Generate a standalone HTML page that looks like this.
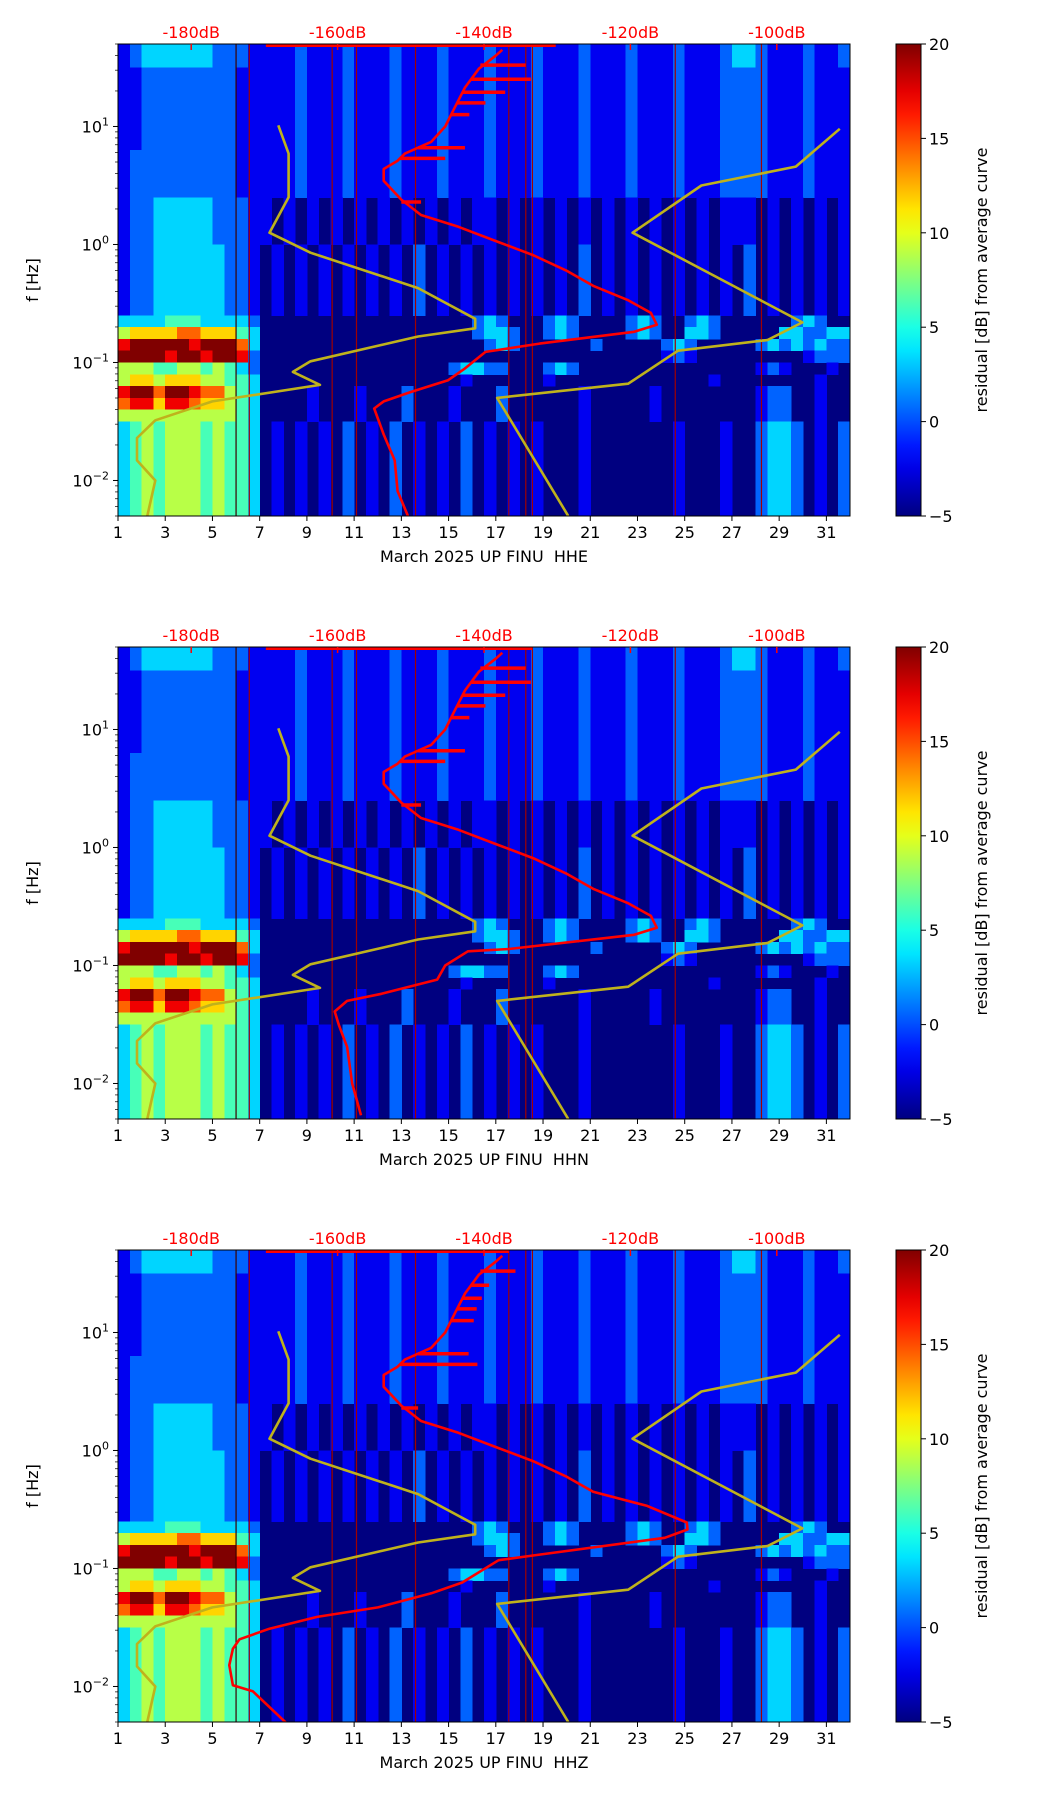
<!DOCTYPE html>
<html><head><meta charset="utf-8">
<style>
html,body{margin:0;padding:0;background:#fff;}
svg text{font-family:"DejaVu Sans","Liberation Sans",sans-serif;}
</style></head>
<body>
<svg id="root" width="1052" height="1806" viewBox="0 0 1052 1806" xmlns="http://www.w3.org/2000/svg"></svg>
<script>
// ---------- data ----------
const panelNames = ["HHE","HHN","HHZ"];
const dayTicks = [1,3,5,7,9,11,13,15,17,19,21,23,25,27,29,31];
const dbTicks = [-180,-160,-140,-120,-100];
const cbTicks = [20,15,10,5,0,-5];
const logTicks = [1,0,-1,-2];
const markerDays = [6.0,6.56,10.07,11.1,13.6,17.55,18.27,18.55,24.6,28.25];

// residual grid: 40 rows (0.1 decade each, from log f 1.7 down), 62 cols (half days), digits 0..9 -> -5..20 dB
const rA="1112111211"+"1211121112"+"1112111211"+"1211121112"+"3321112112";
const rB="1112111211"+"1211121112"+"1112111211"+"1211121112"+"2221112111";
const rC="1010101010"+"1010101011"+"0101010101"+"0101010101"+"1101010101";
const rD="0101010101"+"0102010101"+"0101010201"+"0101010101"+"0201010101";
const rE="0000000000"+"0000000023"+"2000232000"+"0232002320"+"0000023200";
const rF="0000000000"+"0000000023"+"3200232000"+"0232003320"+"0000332233";
const rG="0000000000"+"0000000002"+"3200000020"+"0000232000"+"0023232322";
const rH="0000000000"+"0000000000"+"0000000000"+"0000121000"+"0000001222";
const rI="0000000000"+"0000002332"+"2000232000"+"0000000000"+"0012100010";
const rJ="0000000000"+"0000000100"+"0000100000"+"0000000010"+"0000000100";
const rK="0000100010"+"0020001000"+"2000000100"+"0001000000"+"0012200100";
const rL="0101010201"+"0201010201"+"0101000100"+"0000010001"+"0023320102";
const residualRows = [
"123333332221"+rA,"123333332221"+rA,
"112222222211"+rB,"112222222211"+rB,"112222222211"+rB,"112222222211"+rB,"112222222211"+rB,"112222222211"+rB,"112222222211"+rB,
"122222222211"+rB,"122222222211"+rB,"122222222211"+rB,"122222222211"+rB,
"122333332221"+rC,"122333332221"+rC,"122333332221"+rC,"122333332221"+rC,
"122333333221"+rD,"122333333221"+rD,"122333333221"+rD,"122333333221"+rD,"122333333221"+rD,"122333333221"+rD,
"333344433332"+rE,
"566667766643"+rF,
"899999899973"+rG,
"999989989982"+rH,
"555445545432"+rI,
"566566655443"+rJ,
"899799877543"+rK,
"788688766543"+rK,
"555555555543"+rK,
"345455545443"+rL,"345455545443"+rL,"345455545443"+rL,"345455545443"+rL,
"345455545443"+rL,"345455545443"+rL,"345455545443"+rL,"345455545443"+rL
];

// noise models (dB, log10 f)
const nlnmDb  = [-186.0,-184.9,-187.4,-187.4,-184.9,-177.1,-162.4,-166.1,-163.7,-149.0,-141.2,-141.2,-149.0,-163.7,-169.3,-166.7,-166.7,-168.1];
const nlnmLog = [-2.30,-2.00,-1.83,-1.64,-1.49,-1.33,-1.19,-1.08,-0.99,-0.78,-0.71,-0.63,-0.37,-0.07,0.10,0.40,0.77,1.01];
const nhnmDb  = [-128.5,-138.2,-120.3,-113.5,-101.3,-96.5,-119.7,-110.3,-97.4,-91.4];
const nhnmLog = [-2.30,-1.30,-1.18,-0.90,-0.81,-0.66,0.10,0.50,0.66,0.98];

// average PSD curves
const upperDb  = [-119.5,-116.4,-117.2,-120.4,-125.1,-128.8,-133.3,-138,-143.5,-148.6,-151.3,-153.7,-153.7,-151.8,-150.8,-147.2,-145.3,-144,-142.6,-140.7,-138.4,-137.5];
const upperLog = [-0.74,-0.68,-0.58,-0.47,-0.35,-0.22,-0.09,0.02,0.15,0.25,0.38,0.54,0.64,0.71,0.77,0.87,1.0,1.16,1.33,1.49,1.60,1.65];
const hheLowDb  = [-150.4,-151.8,-152.2,-153.7,-155,-153.7,-150,-144.9,-142.6,-139.8,-132.4];
const hheLowLog = [-2.30,-2.09,-1.83,-1.61,-1.39,-1.33,-1.25,-1.15,-1.05,-0.91,-0.84];
const hhnLowDb  = [-156.8,-158.0,-158.7,-159.8,-160.4,-158.7,-154.0,-146.4,-145.3,-142.2,-136.6];
const hhnLowLog = [-2.27,-2.0,-1.69,-1.51,-1.39,-1.30,-1.24,-1.12,-1.0,-0.88,-0.86];
const hhzLowDb  = [-167.0,-171.6,-174.3,-174.8,-174.3,-173.4,-169.3,-162.8,-154.5,-147.2,-143.0,-138,-133.3,-115.3,-112.2,-112.3,-117.7];
const hhzLowLog = [-2.31,-2.04,-1.99,-1.82,-1.68,-1.60,-1.51,-1.41,-1.33,-1.21,-1.12,-0.93,-0.89,-0.74,-0.67,-0.61,-0.47];
const spikeLog   = [1.52,1.40,1.29,1.20,1.10,0.82,0.73,0.36];
const spikeStart = [-140.5,-141.7,-142.9,-143.7,-144.5,-149,-151.5,-151.3];
const spikeEnd   = [-134.3,-133.6,-137.1,-139.8,-142,-142.6,-145.3,-148.6];
const spikeEndZ  = [-135.7,-139.3,-140.3,-141.0,-141.4,-142.1,-140.9,-149];
const topLineStart = [-169.8,-169.8,-169.8];
const topLineEnd   = [-130.2,-133.4,-136.6];

// ---------- layout ----------
const NS="http://www.w3.org/2000/svg";
const root=document.getElementById('root');
const L=118,R=850,H=472,tops=[44,647,1250];
const CBL=896,CBR=921;
const dayMin=1,dayMax=32,logMin=Math.log10(0.005),logMax=Math.log10(50),dbMin=-190,dbMax=-90;
const xDay=d=>L+(d-dayMin)/(dayMax-dayMin)*(R-L);
const xDb=v=>L+(v-dbMin)/(dbMax-dbMin)*(R-L);
const yLog=(t,l)=>t+(logMax-l)/(logMax-logMin)*H;
function jet(t){t=Math.max(0,Math.min(1,t));
 const r=Math.min(Math.max(Math.min(4*t-1.5,-4*t+4.5),0),1);
 const g=Math.min(Math.max(Math.min(4*t-0.5,-4*t+3.5),0),1);
 const b=Math.min(Math.max(Math.min(4*t+0.5,-4*t+2.5),0),1);
 return `rgb(${Math.round(r*255)},${Math.round(g*255)},${Math.round(b*255)})`;}
function mk(tag,attrs,parent){const e=document.createElementNS(NS,tag);for(const k in attrs)e.setAttribute(k,attrs[k]);(parent||root).appendChild(e);return e;}
function txt(s,attrs,parent){const e=mk('text',attrs,parent);e.textContent=s;return e;}

panelNames.forEach((nm,pi)=>{
 const T=tops[pi];
 const g=mk('g',{});
 
 
 const clipId='clip'+pi;
 const cp=mk('clipPath',{id:clipId},g);mk('rect',{x:L,y:T,width:R-L,height:H},cp);
 const hm=mk('g',{'clip-path':`url(#${clipId})`,'shape-rendering':'crispEdges'},g);
 
 
 mk('rect',{x:L,y:T,width:R-L,height:H,fill:jet(0)},hm);
 residualRows.forEach((row,ri)=>{
  const l0=1.7-0.1*ri,l1=l0-0.1;
  const y0=yLog(T,l0),y1=yLog(T,l1);
  for(let c=0;c<row.length;c++){
   const v=-5+(+row[c])*25/9;
   if(+row[c]===0)continue;
   const d0=1+0.5*c,d1=d0+0.5;
   const r=mk('rect',{x:xDay(d0).toFixed(2),y:y0.toFixed(2),width:(xDay(d1)-xDay(d0)+0.5).toFixed(2),height:(y1-y0+0.5).toFixed(2),fill:jet((v+5)/25)},hm);
   
   
  }
 });
 markerDays.forEach((d,i)=>{
  const ln=mk('line',{x1:xDay(d),x2:xDay(d),y1:T,y2:T+H,stroke:i===0?'#3a0000':'#a00000','stroke-width':1.2},g);
  
  
 });
 const plotG=mk('g',{'clip-path':`url(#${clipId})`},g);
 const poly=(dbA,logA,col,w,nmv)=>{const p=mk('polyline',{points:dbA.map((v,i)=>xDb(v).toFixed(1)+','+yLog(T,logA[i]).toFixed(1)).join(' '),fill:'none',stroke:col,'stroke-width':w,'stroke-linejoin':'round'},plotG);
  
  };
 poly(nlnmDb,nlnmLog,'#bfb21c',2.6,'nlnm-curve');
 poly(nhnmDb,nhnmLog,'#bfb21c',2.6,'nhnm-curve');
 const lowDb=[hheLowDb,hhnLowDb,hhzLowDb][pi],lowLog=[hheLowLog,hhnLowLog,hhzLowLog][pi];
 const fromIdx=pi===2?4:0;
 poly(lowDb.concat(upperDb.slice(fromIdx)),lowLog.concat(upperLog.slice(fromIdx)),'#ff0000',2.6,'average-psd-curve');
 const ends=pi===2?spikeEndZ:spikeEnd;
 spikeLog.forEach((l,i)=>{
  const s=mk('line',{x1:xDb(spikeStart[i]),x2:xDb(ends[i]),y1:yLog(T,l),y2:yLog(T,l),stroke:'#ff0000','stroke-width':3.5},plotG);
  
  
 });
 const tl=mk('line',{x1:xDb(topLineStart[pi]),x2:xDb(topLineEnd[pi]),y1:T+1.5,y2:T+1.5,stroke:'#ff0000','stroke-width':3},g);
 
 
 const fr=mk('rect',{x:L,y:T,width:R-L,height:H,fill:'none',stroke:'#000','stroke-width':1},g);
 
 
 dbTicks.forEach(v=>{
  mk('line',{x1:xDb(v),x2:xDb(v),y1:T,y2:T+6,stroke:'#ff0000','stroke-width':1.5},g);
  const t=txt(v+'dB',{x:xDb(v),y:T-6,'text-anchor':'middle','font-size':16,fill:'#ff0000'},g);
  
  
 });
 dayTicks.forEach(d=>{
  mk('line',{x1:xDay(d),x2:xDay(d),y1:T+H,y2:T+H+5,stroke:'#000'},g);
  const t=txt(String(d),{x:xDay(d),y:T+H+22,'text-anchor':'middle','font-size':16},g);
  
  
 });
 const xl=txt('March 2025 UP FINU\u00a0 '+nm,{x:(L+R)/2,y:T+H+46,'text-anchor':'middle','font-size':16},g);
 
 
 for(let dec=-3;dec<=1;dec++)for(let m=1;m<10;m++){
  const l=dec+Math.log10(m);if(l<logMin||l>logMax)continue;
  mk('line',{x1:L-(m===1?5:3),x2:L,y1:yLog(T,l),y2:yLog(T,l),stroke:'#000','stroke-width':m===1?1:0.7},g);
 }
 logTicks.forEach(l=>{
  const t=mk('text',{x:L-9,y:yLog(T,l)+6,'text-anchor':'end','font-size':16},g);
  
  
  const a=document.createElementNS(NS,'tspan');a.textContent='10';t.appendChild(a);
  const b=document.createElementNS(NS,'tspan');b.setAttribute('dy','-7');b.setAttribute('font-size','11');b.textContent=(l<0?'\u2212'+(-l):String(l));t.appendChild(b);
 });
 const yl=txt('f [Hz]',{x:0,y:0,'text-anchor':'middle','font-size':16,transform:`translate(38,${T+H/2}) rotate(-90)`},g);
 
 
 const gid='cbg'+pi;
 const lg=mk('linearGradient',{id:gid,x1:0,y1:1,x2:0,y2:0},g);
 for(let i=0;i<=20;i++)mk('stop',{offset:i/20,'stop-color':jet(i/20)},lg);
 const cb=mk('rect',{x:CBL,y:T,width:CBR-CBL,height:H,fill:`url(#${gid})`,stroke:'#000','stroke-width':1},g);
 
 
 cbTicks.forEach(v=>{
  const y=T+(20-v)/25*H;
  mk('line',{x1:CBR,x2:CBR+5,y1:y,y2:y,stroke:'#000'},g);
  const t=txt(v<0?'\u2212'+(-v):String(v),{x:CBR+8,y:y+6,'font-size':16},g);
  
  
 });
 const cl=txt('residual [dB] from average curve',{x:0,y:0,'text-anchor':'middle','font-size':16,transform:`translate(987,${T+H/2}) rotate(-90)`},g);
 
 
});
</script>
</body></html>
